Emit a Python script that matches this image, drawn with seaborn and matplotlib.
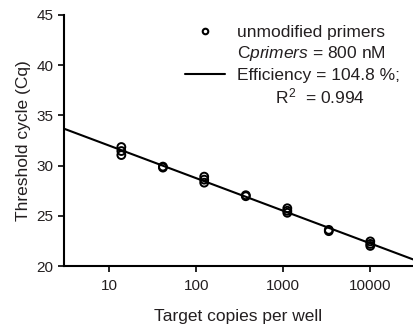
import numpy as np
import pandas as pd
import matplotlib
matplotlib.use("Agg")
import matplotlib.pyplot as plt
from matplotlib.lines import Line2D
import seaborn as sns

# ---- data ----
target_copies = [13.7, 13.7, 13.7, 41.2, 41.2, 123, 123, 123, 370, 370,
                 1111, 1111, 1111, 3333, 3333, 10000, 10000, 10000]
cq_values = [31.85, 31.45, 31.05, 29.9, 29.8, 28.9, 28.6, 28.3, 27.05, 26.95,
             25.75, 25.5, 25.3, 23.6, 23.47, 22.45, 22.2, 22.0]
x_ticks = [10, 100, 1000, 10000]
x_tick_labels = ["10", "100", "1000", "10000"]
y_ticks = [20, 25, 30, 35, 40, 45]
legend_labels = ["unmodified primers", r"C$\mathit{primers}$ = 800 nM",
                 "Efficiency = 104.8 %;", r"        R$^2$  = 0.994"]

df = pd.DataFrame({"copies": target_copies, "cq": cq_values})

sns.set_style("ticks")
plt.rcParams["font.family"] = ["Liberation Sans", "DejaVu Sans"]
plt.rcParams["mathtext.fontset"] = "custom"
plt.rcParams["mathtext.rm"] = "Liberation Sans"
plt.rcParams["mathtext.it"] = "Liberation Sans:italic"

text_c = "#231f20"
fig = plt.figure(figsize=(4.13, 3.24), dpi=100)
ax = fig.add_axes([64 / 413, 1 - 266 / 324, 1 - 64 / 413, (266 - 15) / 324])
ax.set_xscale("log")
ax.set_xlim(3, 31000)
ax.set_ylim(20, 45)

sns.regplot(data=df, x="copies", y="cq", logx=True, scatter=False, ci=None,
            truncate=False, line_kws=dict(color="black", lw=1.5), ax=ax)
sns.scatterplot(data=df, x="copies", y="cq", marker="o", s=32,
                facecolor="none", edgecolor="black", linewidth=1.4, ax=ax,
                zorder=3, legend=False)
ax.set_xlim(3, 31000)
ax.set_ylim(20, 45)

ax.set_xticks(x_ticks)
ax.set_xticklabels(x_tick_labels)
ax.minorticks_off()
ax.set_yticks(y_ticks)
ax.tick_params(axis="both", labelsize=11, colors=text_c, length=4, width=1.2,
               direction="out")
ax.tick_params(axis="x", pad=5)
ax.tick_params(axis="both", color="black")
ax.set_xlabel("Target copies per well", fontsize=12.5, color=text_c, labelpad=12)
ax.set_ylabel("Threshold cycle (Cq)", fontsize=12.5, color=text_c, labelpad=4)
sns.despine(ax=ax)
for s in ["left", "bottom"]:
    ax.spines[s].set_linewidth(1.5)
    ax.spines[s].set_color("black")
    ax.spines[s].set_clip_on(False)

handles = [
    Line2D([], [], marker="o", ls="none", mfc="none", mec="black", ms=4, mew=1.5),
    Line2D([], [], ls="none"),
    Line2D([], [], color="black", lw=1.5),
    Line2D([], [], ls="none"),
]
leg = ax.legend(handles, legend_labels, loc="upper left",
                bbox_to_anchor=(185 / 413, 1 - 25 / 324),
                bbox_transform=fig.transFigure, frameon=False, fontsize=12.5,
                borderpad=0, borderaxespad=0, handlelength=2.3,
                handletextpad=0.7, labelspacing=0.24)
for t in leg.get_texts():
    t.set_color(text_c)

fig.savefig("out.png", dpi=100)
